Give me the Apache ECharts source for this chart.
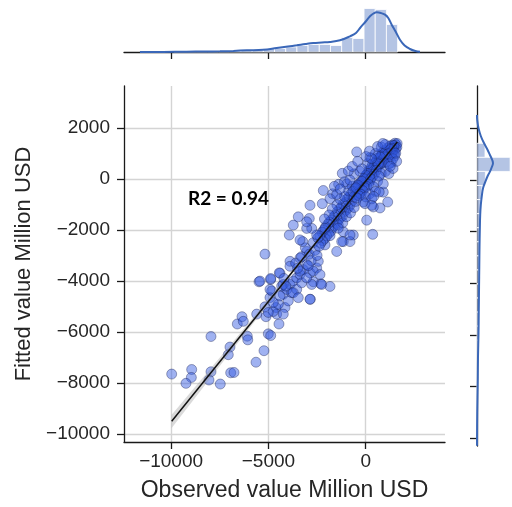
<!DOCTYPE html>
<html>
<head>
<meta charset="utf-8">
<script src="https://cdn.jsdelivr.net/npm/echarts@6/dist/echarts.min.js"></script>
<style>
  html, body { margin: 0; padding: 0; background: #ffffff; }
  #chart { width: 512px; height: 507px; }
</style>
</head>
<body>
<div id="chart"></div>
<script>
// Observed vs fitted values (million USD)
const scatterPoints = [
  // lower tail
  [-9970,-7648],[-8942,-7469],[-8960,-7780],[-9235,-8011],[-7950,-6175],[-7950,-7558],[-8053,-7880],[-7472,-8038],
  [-6974,-6589],[-7061,-6888],[-6938,-7597],[-6768,-7585],[-6598,-5685],[-6357,-5399],[-6290,-5581],[-6085,-6163],
  [-6060,-6306],[-5637,-7183],[-5226,-6732],[-5005,-6072],[-4882,-6137],[-5483,-4031],[-4882,-3941],[-4456,-5685],
  [-4404,-3694],[-5124,-5399],[-5175,-5012],[-4610,-5039],[-4147,-5039],[-4574,-5297],[-2847,-4716],[-1835,-4212],
  [-2313,-4109],[-2693,-4031],[-5602,-5298],[-4749,-5194],[-4491,-4911],[-4918,-4651],
  [-4831,-4392],[-4235,-4522],[-4060,-4330],[-3890,-4135],[-3721,-4004],[-3546,-3876],[-3376,-3747],[-3207,-3554],
  [-3032,-3360],[-3978,-4779],[-3803,-4457],[-4317,-4198],[-3546,-4330],[-3289,-4070],[-2862,-3682],[-2518,-3488],
  [-4749,-4845],[-5005,-5233],[-4235,-5298],
  // middle section
  [-5175,-2946],[-5432,-4004],[-4882,-3903],[-4440,-3682],[-3890,-3229],[-3890,-3423],[-3376,-3101],[-3032,-2842],
  [-2775,-4135],[-2261,-4135],[-2862,-4717],[-1490,-2842],[-2436,-3229],[-2092,-2585],[-3376,-3616],
  [-4404,-4585],[-4918,-4330],[-3721,-4457],[-4235,-4135],[-3032,-3876],[-2693,-3616],[-2349,-3747],[-3464,-4651],
  [-3600,-3300],[-3300,-3050],[-3100,-2700],[-2900,-2950],[-2700,-2500],[-2600,-2800],[-2800,-3200],[-3500,-3500],
  [-4200,-3900],[-4100,-4200],[-2500,-3000],[-2950,-3400],
  [-720,-880],[-760,-590],[-815,-1040],[-870,-720],[-905,-1130],[-960,-790],[-1010,-1230],[-1045,-930],
  [-1120,-1290],[-1160,-980],[-1195,-1450],[-1260,-1120],[-1310,-1530],[-1340,-1180],[-1415,-1620],[-1460,-1290],
  [-1490,-1740],[-1560,-1420],[-1610,-1830],[-1640,-1480],[-1715,-1920],[-1760,-1610],[-1790,-2050],[-1860,-1690],
  [-1905,-2140],[-1940,-1770],[-2010,-2230],[-2060,-1880],[-2090,-2330],[-2160,-2020],[-2210,-2420],[-2240,-2090],
  [-2310,-2520],[-2360,-2230],[-2390,-2640],[-2460,-2310],
  [-2179,-453],[-1696,-581],[-1835,-775],[-1408,-1809],[-2092,-1938],[-2518,-2197],[-637,-2197],[-1151,-2455],
  [-807,-2455],[-1835,-2222],[-2775,-1938],[-3032,-1938],[-3721,-1809],[-2898,-1550],[-3464,-1486],[-3926,-2197],
  [-3238,-2455],[-2862,-1034],[-2230,-969],[-3032,-1680],[-3376,-2390],[-1151,-2067],[-807,-2197],[-1233,-2455],
  [-1480,-1020],[-1320,-790],[-1090,-690],[-880,-470],[-690,-280],[-1720,-1180],[-1880,-1410],[-2120,-1570],
  [-1180,-1720],[-990,-1480],[-780,-1330],[-590,-1120],[-1410,-1930],[-520,-880],
  // upper cluster
  [1500,1400],[1560,1340],[1615,1390],[1445,1260],[1375,1330],[1290,1140],[1240,1290],[1195,1060],
  [1420,1160],[1545,1190],[1600,1240],[1480,1040],[1345,960],[1140,1210],[1095,905],[1040,1045],
  [995,800],[945,1110],[905,950],[845,760],[790,910],[745,650],[705,810],[655,940],
  [600,505],[545,700],[495,410],[455,610],[395,300],[345,560],[305,205],[245,410],
  [195,110],[150,310],[100,-45],[45,160],[-5,-110],[-55,55],[-95,-260],[-145,-40],
  [-205,-305],[-255,-140],[-295,-410],[-355,-190],[-405,-505],[-445,-290],[-505,-610],[-545,-390],
  [-605,-700],[-655,-490],
  [1395,1090],[1305,1010],[1205,890],[1095,1110],[1005,955],[895,690],[805,605],[695,545],
  [605,810],[505,655],[395,440],[295,355],[205,-90],[95,210],[5,140],[-105,10],
  [-195,-95],[-305,-560],[-395,-245],[-495,-345],
  [1455,1310],[1355,1195],[1255,1160],[1145,990],[1055,860],[955,640],[855,1005],[755,860],
  [645,590],[555,340],[445,195],[345,90],[255,5],[155,-210],[55,-295],[-45,-345],
  [-155,-455],[-245,-605],[-345,-660],[-455,-745],
  [1490,905],[1310,640],[1195,590],[1131,-904],[904,-517],[735,-1137],[392,-1098],[360,-2171],
  [51,-1615],[-123,-904],[1010,290],[795,215],[610,-95],[405,-310],[190,-590],[10,-705],
  [1395,790],[690,110],[505,-490],[310,-780],[-36,-969],[308,-1034],
  [-463,1059],[221,840],[-1203,219],[-976,-194],[-600,200],[-300,300],[100,600],[-200,400],
  [500,1000],[800,1250],[1000,1350],[300,800],
  [-890,310],[-1390,-210],[-1610,-290],[-1090,-110],[-810,-45],[-690,490],[-410,690],[15,880],
  [190,1090],[610,1270],[880,1390],[-1490,-610],[-1310,-390],[1190,210],[1405,410],[1590,690],
  [905,-195],[695,-510],[410,-690],[1545,1010],[1260,495]
];

// Fitted regression line and its confidence band
const lineX = [-9970, 1624];
const lineY = [-9500, 1446];
const bandX = [-9970, -7000, -4000, -1000, 1624];
const bandLow = [-9760, -6845, -3933, -1061, 1406];
const bandHigh = [-9240, -6545, -3793, -1001, 1486];

// Tick values
const xTicks = [-10000, -5000, 0];
const yTicks = [-10000, -8000, -6000, -4000, -2000, 0, 2000];

// Marginal histogram of observed values
const xBinEdges = [-9860,-9285,-8710,-8135,-7560,-6985,-6410,-5835,-5260,-4685,-4110,-3535,-2960,-2385,-1810,-1235,-660,-85,490,1065,1640];
const xBinCounts = [1,1,2,2,2,2,3,4,7,7,10,13,15,15,13,29,27,87,85,55];
// Marginal histogram of fitted values (edges from top to bottom)
const yBinEdges = [1422,877,332,-213,-758,-1303,-1848,-2393,-2938,-3483,-4028,-4573,-5118,-5663,-6208,-6753,-7298,-7843,-8388,-8933,-9478];
const yBinCounts = [21,87,22,13,10,8,7,7,6,5,5,4,3,3,2,2,1,1,1,1];

// Kernel density curves, in histogram count units
const kdeXGrid = [-11600,-10400,-9200,-8300,-7490,-6800,-6115,-5260,-4575,-4000,-3545,-3100,-2690,-2250,-1835,-1320,-805,-500,-290,0,220,400,565,780,990,1160,1335,1550,1760,2000,2275,2550,2790];
const kdeXValues = [0,0.2,0.6,1,1.4,2.2,3.4,4.6,8,11,13.4,16,18,19,20,23.4,31.4,38,48,61,71.4,77,79.4,78,74.6,68,54.6,40,24.6,13,6,2,0.6];
const kdeYGrid = [2519,2326,2004,1705,1422,1163,969,775,647,504,322,155,-66,-310,-581,-969,-1357,-1938,-2597,-3372,-4147,-5155,-5930,-6860,-7752,-9031,-10300];
const kdeYValues = [0,0.6,4,10,18.6,28,34,40,42,39,34,28,22,16,13,10,8.4,7.4,6.6,6,5.4,4.6,4,2.6,2,0.6,0];

const FONT = '"Liberation Sans", Arial, sans-serif';
const INK = '#1a1a1a';
const TEXT = '#262626';
const fmt = v => (v < 0 ? '\u2212' : '') + Math.abs(v);

const X_MIN = -12420, X_MAX = 4075;
const Y_MIN = -10310, Y_MAX = 3643;
const COUNT_MAX = 92;

const histFill = 'rgba(76,114,190,0.42)';
const kdeColor = '#3a67b8';

function histItems(edges, counts) {
  return counts.map((c, i) => [edges[i], edges[i + 1], c]);
}

const chart = echarts.init(document.getElementById('chart'), null, { renderer: 'canvas' });

chart.setOption({
  animation: false,
  backgroundColor: '#ffffff',
  grid: [
    { left: 124, top: 86, width: 321, height: 360 },
    { left: 124, top: 6, width: 321, height: 46 },
    { left: 477, top: 86, width: 46, height: 360 }
  ],
  xAxis: [
    {
      gridIndex: 0, type: 'value', min: X_MIN, max: X_MAX,
      axisLine: { onZero: false, lineStyle: { color: INK, width: 1.3 } },
      axisTick: { customValues: xTicks, length: 7, lineStyle: { color: INK, width: 1.3 } },
      axisLabel: { customValues: xTicks, formatter: fmt, fontSize: 19, color: TEXT, fontFamily: FONT, margin: 10 },
      splitLine: { show: true, lineStyle: { color: '#d4d4d4', width: 1.4 } },
      name: 'Observed value Million USD', nameLocation: 'middle', nameGap: 37,
      nameTextStyle: { fontSize: 23, color: TEXT, fontFamily: FONT }
    },
    {
      gridIndex: 1, type: 'value', min: X_MIN, max: X_MAX,
      axisLine: { onZero: false, lineStyle: { color: INK, width: 1.3 } },
      axisTick: { customValues: xTicks, length: 7, lineStyle: { color: INK, width: 1.3 } },
      axisLabel: { show: false },
      splitLine: { show: false }
    },
    { gridIndex: 2, type: 'value', min: 0, max: COUNT_MAX, show: false }
  ],
  yAxis: [
    {
      gridIndex: 0, type: 'value', min: Y_MIN, max: Y_MAX,
      axisLine: { show: true, onZero: false, lineStyle: { color: INK, width: 1.3 } },
      axisTick: { show: true, customValues: yTicks, length: 7, lineStyle: { color: INK, width: 1.3 } },
      axisLabel: { customValues: yTicks, formatter: fmt, fontSize: 19, color: TEXT, fontFamily: FONT, margin: 14 },
      splitLine: { show: true, lineStyle: { color: '#d4d4d4', width: 1.4 } },
      name: 'Fitted value Million USD', nameLocation: 'middle', nameGap: 86,
      nameTextStyle: { fontSize: 22, color: TEXT, fontFamily: FONT }
    },
    { gridIndex: 1, type: 'value', min: 0, max: COUNT_MAX, show: false },
    {
      gridIndex: 2, type: 'value', min: Y_MIN, max: Y_MAX,
      axisLine: { show: true, onZero: false, lineStyle: { color: INK, width: 1.3 } },
      axisTick: { show: true, customValues: yTicks, length: 7, lineStyle: { color: INK, width: 1.3 } },
      axisLabel: { show: false },
      splitLine: { show: false }
    }
  ],
  graphic: [
    {
      type: 'text', left: 188, top: 189, z: 10,
      style: { text: 'R2 = 0.94', font: 'bold 19px Lato, "Open Sans", sans-serif', fill: '#000000' }
    }
  ],
  series: [
    {
      type: 'scatter', xAxisIndex: 0, yAxisIndex: 0,
      data: scatterPoints,
      symbolSize: 10,
      itemStyle: { color: 'rgba(50,88,225,0.58)', borderColor: 'rgba(20,30,80,0.6)', borderWidth: 0.8 },
      z: 2
    },
    {
      type: 'custom', xAxisIndex: 0, yAxisIndex: 0,
      data: [[0]],
      renderItem: function (params, api) {
        const pts = [];
        bandX.forEach((x, i) => pts.push(api.coord([x, bandLow[i]])));
        for (let i = bandX.length - 1; i >= 0; i--) pts.push(api.coord([bandX[i], bandHigh[i]]));
        return { type: 'polygon', shape: { points: pts }, style: { fill: 'rgba(150,150,150,0.35)' } };
      },
      z: 3, silent: true
    },
    {
      type: 'line', xAxisIndex: 0, yAxisIndex: 0,
      data: lineX.map((x, i) => [x, lineY[i]]),
      symbol: 'none',
      lineStyle: { color: '#111111', width: 1.5 },
      z: 4, silent: true
    },
    {
      type: 'custom', xAxisIndex: 1, yAxisIndex: 1,
      data: histItems(xBinEdges, xBinCounts),
      renderItem: function (params, api) {
        const p0 = api.coord([api.value(0), 0]);
        const p1 = api.coord([api.value(1), api.value(2)]);
        return {
          type: 'rect',
          shape: { x: p0[0], y: p1[1], width: p1[0] - p0[0], height: p0[1] - p1[1] },
          style: { fill: histFill, stroke: '#ffffff', lineWidth: 0.8 }
        };
      },
      z: 2, silent: true
    },
    {
      type: 'line', xAxisIndex: 1, yAxisIndex: 1,
      data: kdeXGrid.map((x, i) => [x, kdeXValues[i]]),
      smooth: 0.4, symbol: 'none',
      lineStyle: { color: kdeColor, width: 2 },
      z: 3, silent: true
    },
    {
      type: 'custom', xAxisIndex: 2, yAxisIndex: 2,
      data: histItems(yBinEdges, yBinCounts),
      renderItem: function (params, api) {
        const p0 = api.coord([0, api.value(0)]);
        const p1 = api.coord([api.value(2), api.value(1)]);
        return {
          type: 'rect',
          shape: { x: p0[0], y: Math.min(p0[1], p1[1]), width: p1[0] - p0[0], height: Math.abs(p1[1] - p0[1]) },
          style: { fill: histFill, stroke: '#ffffff', lineWidth: 0.8 }
        };
      },
      z: 2, silent: true
    },
    {
      type: 'line', xAxisIndex: 2, yAxisIndex: 2,
      data: kdeYGrid.map((y, i) => [kdeYValues[i], y]),
      smooth: 0.4, symbol: 'none',
      lineStyle: { color: kdeColor, width: 2 },
      z: 3, silent: true
    }
  ]
});
</script>
</body>
</html>
